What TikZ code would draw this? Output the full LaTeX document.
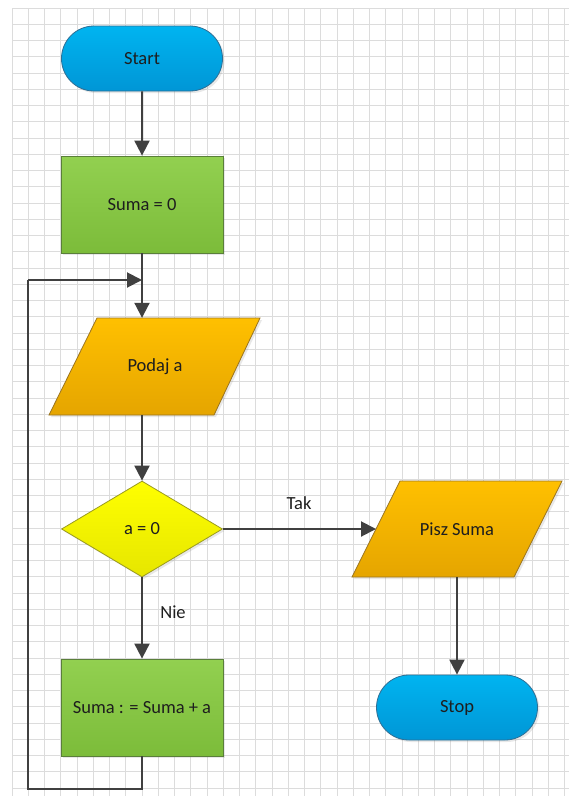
\documentclass[tikz,border=0pt]{standalone}
\usepackage{fontspec}
\setmainfont{Carlito}
\usetikzlibrary{shapes.geometric,shapes.misc,arrows.meta,shadows}
\definecolor{gridc}{HTML}{DCDCDC}
\definecolor{linec}{HTML}{404040}
\definecolor{txt}{HTML}{1E1E1E}
\definecolor{blueT}{HTML}{00B4F0}
\definecolor{blueB}{HTML}{0096D6}
\definecolor{blueD}{HTML}{2F6F95}
\definecolor{greenT}{HTML}{92D050}
\definecolor{greenB}{HTML}{7CBC3A}
\definecolor{greenD}{HTML}{5A7F3A}
\definecolor{orT}{HTML}{FFC000}
\definecolor{orB}{HTML}{E5A500}
\definecolor{orD}{HTML}{9A7420}
\definecolor{yeT}{HTML}{FFFF00}
\definecolor{yeB}{HTML}{E6E600}
\definecolor{yeD}{HTML}{9A9A20}
\tikzset{
  base/.style={font=\fontsize{18.5}{22}\selectfont, text=txt, inner sep=0pt, line width=0.8pt,
     drop shadow={opacity=0.18, shadow xshift=2pt, shadow yshift=-2pt}},
  term/.style={base, rounded rectangle, minimum width=161pt, minimum height=65pt,
     top color=blueT, bottom color=blueB, draw=blueD},
  proc/.style={base, rectangle, minimum width=162pt, minimum height=97pt,
     top color=greenT, bottom color=greenB, draw=greenD},
  dec/.style={base, diamond, minimum width=161pt, minimum height=96pt,
     top color=yeT, bottom color=yeB, draw=yeD},
  paratext/.style={font=\fontsize{18.5}{22}\selectfont, text=txt, inner sep=0pt},
  parashape/.style={line width=0.8pt, top color=orT, bottom color=orB, draw=orD,
     drop shadow={opacity=0.18, shadow xshift=2pt, shadow yshift=-2pt}},
  conn/.style={draw=linec, line width=2pt, -{Triangle[length=15pt,width=15pt]}},
  plain/.style={draw=linec, line width=2pt},
  lab/.style={font=\fontsize{18.5}{22}\selectfont, text=txt}
}
\begin{document}
\begin{tikzpicture}[x=1pt,y=-1pt]
\useasboundingbox (0,0) rectangle (569,796);
\fill[white] (0,0) rectangle (569,796);
% grid
\foreach \i in {0,...,34} \draw[gridc, line width=0.8pt] ({12+\i*16.25},8) -- ({12+\i*16.25},796);
\foreach \j in {0,...,48} \draw[gridc, line width=0.8pt] (12,{8+\j*16.25}) -- (569,{8+\j*16.25});
% parallelogram shapes
\path[parashape] (97,318) -- (260,318) -- (214,415) -- (49,415) -- cycle;
\path[parashape] (400,481) -- (562,481) -- (514,577) -- (352,577) -- cycle;
% nodes
\node[term] (start) at (142,58.5) {Start};
\node[proc] (s0) at (142,204.5) {Suma = 0};
\node[paratext, minimum width=120pt, minimum height=97pt] (podaj) at (155,366.5) {Podaj a};
\node[dec] (d) at (142,529) {a = 0};
\node[proc] (s1) at (142,707.5) {Suma : = Suma + a};
\node[paratext, minimum width=120pt, minimum height=96pt] (pisz) at (457,529) {Pisz Suma};
\node[term] (stop) at (457,707.5) {Stop};
\coordinate (pl) at (376,529);
\coordinate (j) at (142,280);
\coordinate (lb) at (142,789);
\coordinate (lc) at (28,789);
\coordinate (lt) at (28,280);
% connectors
\draw[conn] (start) -- (s0);
\draw[conn] (s0.south) -- (s0.south |- podaj.north);
\draw[conn] (s0.south |- podaj.south) -- (d.north);
\draw[conn] (d.east) -- (pl);
\draw[conn] (d.south) -- (s1.north);
\draw[conn] (pisz.south) -- (stop.north);
\draw[plain, line join=miter] (s1.south) -- (lb) -- (lc) -- (lt);
\draw[conn] (lt) -- (j);
% labels
\node[lab] (tak) at (299,503) {Tak};
\node[lab] (nie) at (173,612) {Nie};
\end{tikzpicture}
\end{document}
